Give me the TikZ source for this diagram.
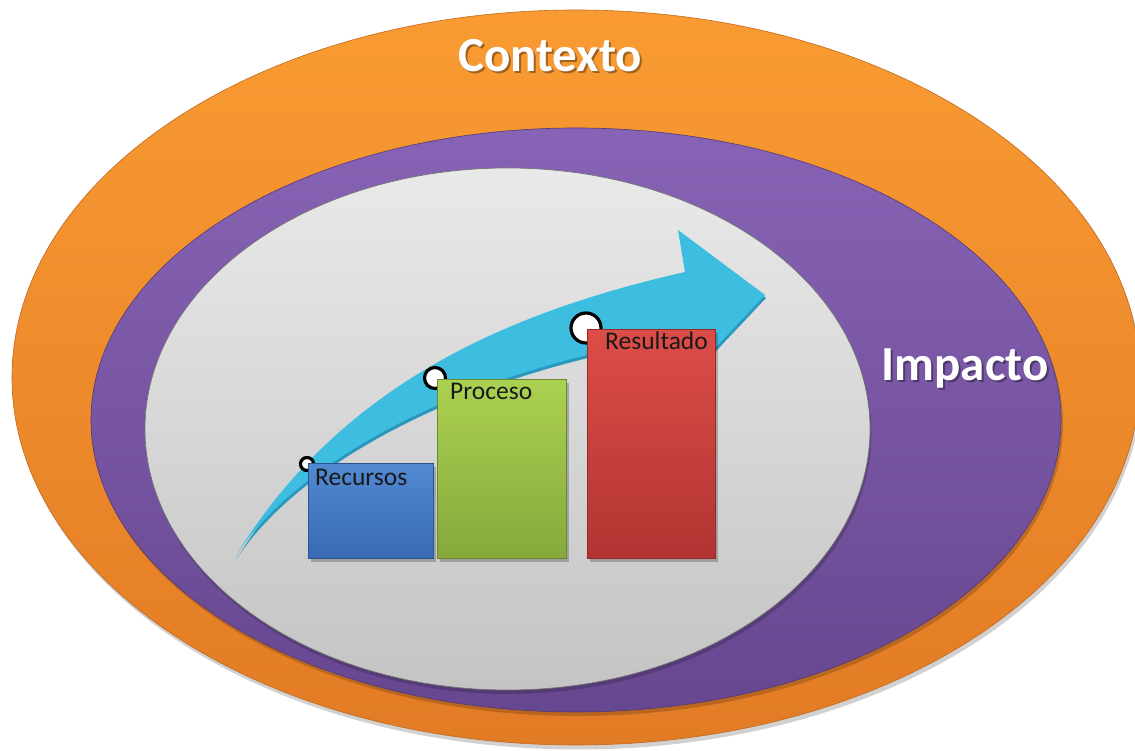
\documentclass[tikz,border=0pt]{standalone}
\usepackage{fontspec}
\setmainfont{Carlito}
\usetikzlibrary{shapes.geometric}
\definecolor{orangeT}{HTML}{F99B32}
\definecolor{orangeB}{HTML}{E27B25}
\definecolor{purpleT}{HTML}{8763B5}
\definecolor{purpleB}{HTML}{674790}
\definecolor{greyT}{HTML}{E9E9E9}
\definecolor{greyB}{HTML}{C4C4C4}
\definecolor{cyanM}{HTML}{3DBEE0}
\definecolor{cyanD}{HTML}{2A97BD}
\definecolor{blueT}{HTML}{5189D3}
\definecolor{blueB}{HTML}{396AB3}
\definecolor{greenT}{HTML}{ABD151}
\definecolor{greenB}{HTML}{86A93C}
\definecolor{redT}{HTML}{DD4D48}
\definecolor{redB}{HTML}{B13432}
\begin{document}
\begin{tikzpicture}[x=1pt,y=1pt,
  ring/.style={ellipse, inner sep=0pt, outer sep=0pt},
  ringshadow/.style={ellipse, inner sep=0pt, fill=black, opacity=0.18},
  barbox/.style={rectangle, inner sep=0pt, anchor=south west, line width=0.8pt},
  dot/.style={circle, draw=black, fill=white, inner sep=0pt, line width=3.2pt},
  barlabel/.style={anchor=base west, inner sep=0pt, text=black!90, font=\fontsize{25.5}{30}\selectfont},
  biglabel/.style={anchor=base, inner sep=0pt, font=\fontsize{49}{58}\selectfont\bfseries}]
\clip (0,0) rectangle (1135,751);
\fill[white] (0,0) rectangle (1135,751);
% outer ring (Contexto)
\node[ringshadow, minimum width=1128pt, minimum height=735pt] (ctxs) at (578,369) {};
\node[ring, minimum width=1128pt, minimum height=735pt, top color=orangeT, bottom color=orangeB,
      draw=orangeB!85!black, line width=0.6pt] (ctx) at (576,373.5) {};
% middle ring (Impacto)
\node[ringshadow, minimum width=970pt, minimum height=584pt] (imps) at (578,327) {};
\node[ring, minimum width=970pt, minimum height=584pt, top color=purpleT, bottom color=purpleB,
      draw=purpleB!80!black, line width=0.6pt] (imp) at (576,331) {};
% inner disc
\node[ringshadow, minimum width=725pt, minimum height=522pt] (ins) at (509,318) {};
\node[ring, minimum width=725pt, minimum height=522pt, top color=greyT, bottom color=greyB,
      draw=black!55, line width=0.7pt] (inner) at (507.5,322) {};
% arrow
\fill[cyanD] (236,191) .. controls (335,353) and (491,432) .. (686,476) -- (679,518) -- (766,453)
  -- (701,384) -- (691,413) .. controls (451,378) and (291,278) .. (236,191) -- cycle;
\fill[cyanM] (235,194) .. controls (334,356) and (490,435) .. (685,479) -- (678,521) -- (765,456)
  -- (700,387) -- (690,416) .. controls (450,381) and (290,281) .. (235,194) -- cycle;
% markers
\node[dot, minimum size=13pt] (m1) at (307,287) {};
\node[dot, minimum size=21pt] (m2) at (435,373) {};
\node[dot, minimum size=30pt] (m3) at (586,423) {};
% bar shadows
\fill[black, opacity=0.22] (311,189) rectangle (436,284);
\fill[black, opacity=0.22] (440,189) rectangle (569,368);
\fill[black, opacity=0.22] (590,189) rectangle (718,418);
% bars
\node[barbox, minimum width=125pt, minimum height=95pt, top color=blueT, bottom color=blueB, draw=blueB!80!black] (b1) at (308,192) {};
\node[barbox, minimum width=129pt, minimum height=179pt, top color=greenT, bottom color=greenB, draw=greenB!80!black] (b2) at (437,192) {};
\node[barbox, minimum width=128pt, minimum height=229pt, top color=redT, bottom color=redB, draw=redB!80!black] (b3) at (587,192) {};
% bar labels
\node[barlabel] (l1) at (315,265) {Recursos};
\node[barlabel] (l2) at (450,351) {Proceso};
\node[barlabel] (l3) at (605,401) {Resultado};
% titles
\node[biglabel, text=black, opacity=0.35] (t1s) at (552,677) {Contexto};
\node[biglabel, text=white] (t1) at (550,679) {Contexto};
\node[biglabel, text=black, opacity=0.35] (t2s) at (967,368) {Impacto};
\node[biglabel, text=white] (t2) at (965,370) {Impacto};
\end{tikzpicture}
\end{document}
